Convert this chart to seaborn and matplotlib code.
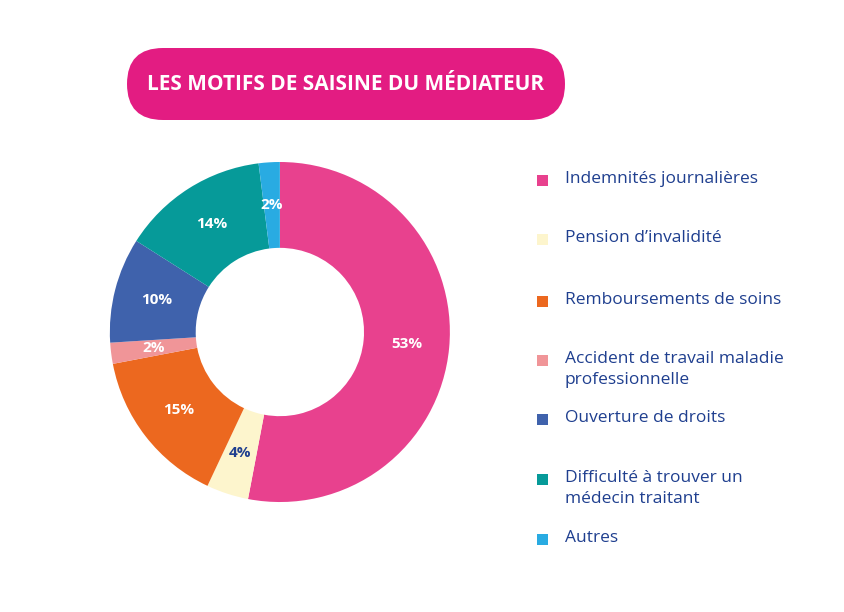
import matplotlib
matplotlib.use("Agg")
import matplotlib.pyplot as plt
from matplotlib.patches import FancyBboxPatch, Rectangle
import numpy as np
import seaborn as sns

# Data
categories = [
    "Indemnités journalières",
    "Pension d\u2019invalidité",
    "Remboursements de soins",
    "Accident de travail maladie\nprofessionnelle",
    "Ouverture de droits",
    "Difficulté à trouver un\nmédecin traitant",
    "Autres",
]
shares = [53, 4, 15, 2, 10, 14, 2]
colors = ["#E8418E", "#FDF5CD", "#EC681F", "#F09598", "#3F62AC", "#069A99", "#29ABE2"]
label_colors = ["white", "#1F3F8F", "white", "white", "white", "white", "white"]
title = "LES MOTIFS DE SAISINE DU MÉDIATEUR"

sns.set_theme(style="white")
plt.rcParams["font.family"] = ["Open Sans", "DejaVu Sans"]

text_blue = "#1F3F8F"

fig = plt.figure(figsize=(8.45, 6.12), dpi=100)
fig.patch.set_facecolor("white")

# donut
ax = fig.add_axes([0.130, 0.1797, 0.4024, 0.5556])
wedges, texts = ax.pie(
    shares, colors=colors, startangle=90, counterclock=False,
    wedgeprops=dict(width=0.505, edgecolor="none"),
)
ax.set_xlim(-1, 1)
ax.set_ylim(-1, 1)
ax.set_aspect("equal")
ax.axis("off")

cum = np.cumsum([0] + shares[:-1])
for v, c0, lc in zip(shares, cum, label_colors):
    ang = np.deg2rad(90 - (c0 + v / 2) * 3.6)
    r = 0.75
    ax.text(r * np.cos(ang), r * np.sin(ang), f"{v}%", ha="center", va="center",
            color=lc, fontsize=11, fontweight="bold")

# title pill
box = FancyBboxPatch((1.27, 4.92), 4.38, 0.72,
                     boxstyle="round,pad=0,rounding_size=0.36",
                     transform=fig.dpi_scale_trans, fc="#E31C82", ec="none")
fig.add_artist(box)
fig.text(3.46 / 8.45, 1 - 0.845 / 6.12, title, ha="center", va="center",
         color="white", fontsize=15, fontweight="bold")

# legend
leg_y = [178, 237, 299, 358, 417, 477, 537]
for cat, col, y in zip(categories, colors, leg_y):
    fig.add_artist(Rectangle((537 / 845, 1 - (y + 8) / 612), 11 / 845, 11 / 612,
                             transform=fig.transFigure, fc=col, ec="none"))
    fig.text(565 / 845, 1 - (y - 7) / 612, cat, ha="left", va="top",
             color=text_blue, fontsize=12.5, linespacing=1.42)

fig.savefig("out.png", dpi=100)
